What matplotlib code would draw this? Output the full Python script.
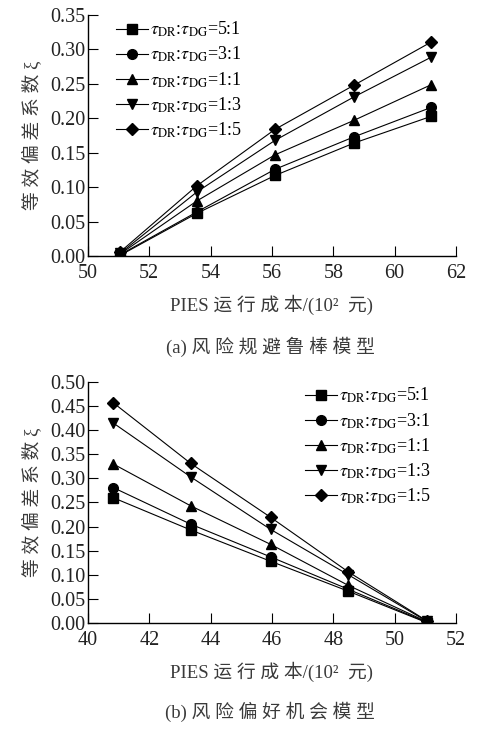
import matplotlib
matplotlib.use("Agg")
import matplotlib.pyplot as plt

plt.rcParams['font.family'] = ['Liberation Serif', 'Noto Sans CJK SC']
plt.rcParams['mathtext.fontset'] = 'stix'

ratios = ["5:1", "3:1", "1:1", "1:3", "1:5"]
markers = ["s", "o", "^", "v", "D"]

# (a) risk-averse robust model
cost_a = [51.05, 53.55, 56.1, 58.67, 61.2]
xi_a = {
    "5:1": [0.001, 0.062, 0.117, 0.164, 0.203],
    "3:1": [0.002, 0.064, 0.126, 0.173, 0.216],
    "1:1": [0.003, 0.080, 0.147, 0.197, 0.249],
    "1:3": [0.004, 0.093, 0.168, 0.231, 0.289],
    "1:5": [0.006, 0.102, 0.184, 0.248, 0.311],
}

# (b) risk-seeking opportunity model
cost_b = [40.82, 43.35, 45.96, 48.49, 51.04]
xi_b = {
    "5:1": [0.260, 0.193, 0.128, 0.066, 0.001],
    "3:1": [0.281, 0.205, 0.137, 0.070, 0.002],
    "1:1": [0.330, 0.243, 0.163, 0.078, 0.003],
    "1:3": [0.415, 0.303, 0.194, 0.100, 0.004],
    "1:5": [0.457, 0.331, 0.219, 0.106, 0.005],
}

xlabel = "PIES 运 行 成 本/(10²  元)"
ylabel = "等 效 偏 差 系 数 ξ"
captions = ["(a) 风 险 规 避 鲁 棒 模 型", "(b) 风 险 偏 好 机 会 模 型"]

fig = plt.figure(figsize=(4.78, 7.33), dpi=100)
ax1 = fig.add_axes([0.184, 0.6507, 0.770, 0.3288])
ax2 = fig.add_axes([0.184, 0.150, 0.770, 0.329])

gray = "#3a3a3a"


def draw(ax, cost, xi, xlim, xticks, ylim, yticks, legend_loc, anchor):
    for r, m in zip(ratios, markers):
        ms = 6 if m == "D" else 7
        ax.plot(cost, xi[r], color="black", lw=0.8, marker=m, ms=ms,
                label=r"$\tau_{\rm DR}$:$\tau_{\rm DG}$=" + r)
    ax.set_xlim(*xlim)
    ax.set_ylim(*ylim)
    ax.set_xticks(xticks)
    ax.set_yticks(yticks)
    ax.set_yticklabels([f"{v:.2f}" for v in yticks])
    ax.spines["top"].set_visible(False)
    ax.spines["right"].set_visible(False)
    ax.spines["left"].set_linewidth(1.0)
    ax.spines["bottom"].set_linewidth(1.0)
    ax.tick_params(direction="in", length=7, width=0.8, labelsize=14.5,
                   labelcolor="#222222")
    ax.tick_params(axis="x", pad=6)
    ax.tick_params(axis="y", pad=2)
    ax.set_xlabel(xlabel, fontsize=13.5, color=gray, labelpad=8)
    ax.set_ylabel(ylabel, fontsize=13.5, color=gray, labelpad=6)
    ax.legend(loc=legend_loc, bbox_to_anchor=anchor, frameon=False,
              fontsize=13, handlelength=1.8, handletextpad=0.1,
              labelspacing=0.32, borderaxespad=0.0)


draw(ax1, cost_a, xi_a, (50, 62), range(50, 63, 2), (0, 0.35),
     [0.0, 0.05, 0.10, 0.15, 0.20, 0.25, 0.30, 0.35], "upper left", (0.056, 1.01))
draw(ax2, cost_b, xi_b, (40, 52), range(40, 53, 2), (0, 0.50),
     [0.0, 0.05, 0.10, 0.15, 0.20, 0.25, 0.30, 0.35, 0.40, 0.45, 0.50],
     "upper right", (0.95, 1.013))

fig.text(0.565, 1 - 347 / 733, captions[0], ha="center", va="center",
         fontsize=13.5, color=gray)
fig.text(0.565, 1 - 712 / 733, captions[1], ha="center", va="center",
         fontsize=13.5, color=gray)

fig.savefig("out.png", dpi=100)
